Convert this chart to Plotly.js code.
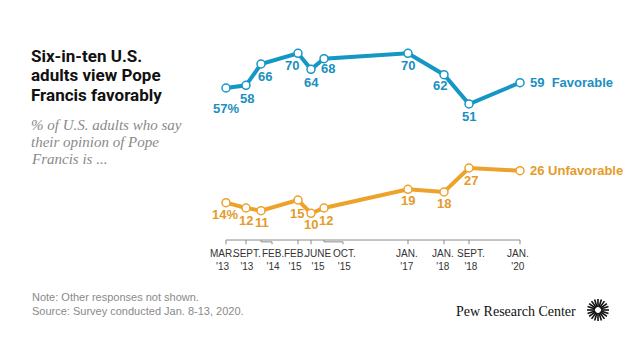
<!DOCTYPE html>
<html>
<head>
<meta charset="utf-8">
<script src="https://cdn.plot.ly/plotly-3.0.1.min.js"></script>
<style>html,body{margin:0;padding:0;background:#fff;}#chart{width:640px;height:360px;}</style>
</head>
<body>
<div id="chart"></div>
<script>
// ---- Data ----
var surveys = ["MAR.<br>'13", "SEPT.<br>'13", "FEB.<br>'14", "FEB.<br>'15", "JUNE<br>'15", "OCT.<br>'15", "JAN.<br>'17", "JAN.<br>'18", "SEPT.<br>'18", "JAN.<br>'20"];
// position of each survey along the chart's (non-linear) timeline, as drawn in the source
var timeline = [0, 20, 35, 72, 85, 98, 182, 218, 243, 294];
var favorable = [57, 58, 66, 70, 64, 68, 70, 62, 51, 59];
var unfavorable = [14, 12, 11, 15, 10, 12, 19, 18, 27, 26];

// ---- Styling / placement (not data) ----
var BLUE = "#1597c6", BLUE_T = "#1a8fc0";
var ORANGE = "#eda22c", ORANGE_T = "#e59b2a";
var leaderShift = [0, 0, 11, 0, 0, 19, 0, 0, 0, 0];     // bent tick leaders
var textShift = [-4, 1, 1, -3, 7, 1, -1, -1, 2, -2];     // small label nudges in px
var favDx = [0, 1, 4, -6, 0, 4, 0, -4, 0];
var favDy = [-20, -13, -12, -12, -13, -10, -12, -11, -12];
var unfDx = [-1, 0, 1, -1, 0, 2, 0, 0, 2];
var unfDy = [-12, -12, -12, -13, -11, -12, -11, -11, -12];

var L = 216, R = 110, T = 40, B = 104, W = 640 - L - R, H = 360 - T - B;
function px(x) { return (x - L) / W; }
function py(y) { return (360 - B - y) / H; }

var NARROW = "Liberation Sans Narrow, Arial Narrow, sans-serif";

var traces = [
  { x: timeline, y: favorable, type: "scatter", mode: "lines+markers", cliponaxis: false,
    line: { color: BLUE, width: 4 },
    marker: { size: 8, color: "#fff", line: { color: BLUE, width: 1.5 } }, hoverinfo: "skip" },
  { x: timeline, y: unfavorable, type: "scatter", mode: "lines+markers", cliponaxis: false,
    line: { color: ORANGE, width: 4 },
    marker: { size: 8, color: "#fff", line: { color: ORANGE, width: 1.5 } }, hoverinfo: "skip" }
];

var annotations = [];
var shapes = [];
var n = timeline.length;

// value labels
for (var i = 0; i < n - 1; i++) {
  annotations.push({ x: timeline[i], y: favorable[i], xref: "x", yref: "y",
    text: favorable[i] + (i === 0 ? "%" : ""), showarrow: false,
    xshift: favDx[i], yshift: favDy[i],
    font: { family: NARROW, size: 13, color: BLUE_T, weight: 700 } });
  annotations.push({ x: timeline[i], y: unfavorable[i], xref: "x", yref: "y",
    text: unfavorable[i] + (i === 0 ? "%" : ""), showarrow: false,
    xshift: unfDx[i], yshift: unfDy[i],
    font: { family: NARROW, size: 13, color: ORANGE_T, weight: 700 } });
}
annotations.push({ x: timeline[n - 1], y: favorable[n - 1], xref: "x", yref: "y", xanchor: "left",
  text: favorable[n - 1] + "\u00a0\u00a0Favorable", showarrow: false, xshift: 8,
  font: { family: NARROW, size: 13, color: BLUE_T, weight: 700 } });
annotations.push({ x: timeline[n - 1], y: unfavorable[n - 1], xref: "x", yref: "y", xanchor: "left",
  text: unfavorable[n - 1] + "\u00a0Unfavorable", showarrow: false, xshift: 8,
  font: { family: NARROW, size: 13, color: ORANGE_T, weight: 700 } });

// axis baseline, ticks and labels
shapes.push({ type: "line", xref: "x", yref: "y", x0: timeline[0], x1: timeline[n - 1], y0: 0, y1: 0,
  line: { color: "#8a8a8a", width: 1 } });
for (var j = 0; j < n; j++) {
  var x = timeline[j], lx = x + leaderShift[j];
  var path = leaderShift[j] === 0 ?
    ("M" + x + ",0 L" + x + ",-1.6") :
    ("M" + x + ",0 L" + x + ",-0.7 L" + lx + ",-0.7 L" + lx + ",-1.6");
  shapes.push({ type: "path", xref: "x", yref: "y", path: path, line: { color: "#8a8a8a", width: 1 } });
  annotations.push({ x: lx, y: 0, xref: "x", yref: "y", yanchor: "top", yshift: -7, xshift: textShift[j],
    text: surveys[j], showarrow: false, borderpad: 0,
    font: { family: NARROW, size: 10, color: "#333" } });
}

// title block (one annotation per line to match the source's leading)
var titleLines = ["Six-in-ten U.S.", "adults view Pope", "Francis favorably"];
var titleY = [55.5, 75, 94.5];
titleLines.forEach(function (t, k) {
  annotations.push({ x: px(29), y: py(titleY[k]), xref: "paper", yref: "paper", xanchor: "left", yanchor: "middle",
    align: "left", showarrow: false, text: t,
    font: { family: "Roboto, Liberation Sans, sans-serif", size: 17, color: "#111", weight: 700 } });
});
var subLines = ["% of U.S. adults who say", "their opinion of Pope", "Francis is ..."];
var subY = [125, 142, 159];
subLines.forEach(function (t, k) {
  annotations.push({ x: px(29), y: py(subY[k]), xref: "paper", yref: "paper", xanchor: "left", yanchor: "middle",
    align: "left", showarrow: false, text: "<i>" + t + "</i>",
    font: { family: "Liberation Serif, serif", size: 15, color: "#8a8a8a" } });
});
annotations.push({ x: px(30), y: py(289), xref: "paper", yref: "paper", xanchor: "left", yanchor: "top",
  align: "left", showarrow: false,
  text: "Note: Other responses not shown.<br>Source: Survey conducted Jan. 8-13, 2020.",
  font: { family: "Liberation Sans, Arial, sans-serif", size: 11, color: "#8a8a8a" } });
annotations.push({ x: px(578), y: py(311), xref: "paper", yref: "paper", xanchor: "right", yanchor: "middle",
  showarrow: false, text: "Pew Research Center",
  font: { family: "Liberation Serif, serif", size: 14, color: "#111" } });

// logo sunburst
var cx = 598, cy = 310;
for (var k = 0; k < 20; k++) {
  var a = k * Math.PI * 2 / 20;
  var r1 = 3, r2 = 11;
  shapes.push({ type: "line", xref: "paper", yref: "paper",
    x0: px(cx + r1 * Math.cos(a)), y0: py(cy + r1 * Math.sin(a)),
    x1: px(cx + r2 * Math.cos(a)), y1: py(cy + r2 * Math.sin(a)),
    line: { color: "#111", width: 1.6 } });
}

var layout = {
  width: 640, height: 360,
  margin: { l: L, r: R, t: T, b: B },
  paper_bgcolor: "#fff", plot_bgcolor: "#fff",
  showlegend: false,
  xaxis: { range: [-10, 304], visible: false, fixedrange: true },
  yaxis: { range: [-6, 75], visible: false, fixedrange: true },
  annotations: annotations,
  shapes: shapes
};

Plotly.newPlot("chart", traces, layout, { staticPlot: true, displayModeBar: false });
</script>
</body>
</html>
